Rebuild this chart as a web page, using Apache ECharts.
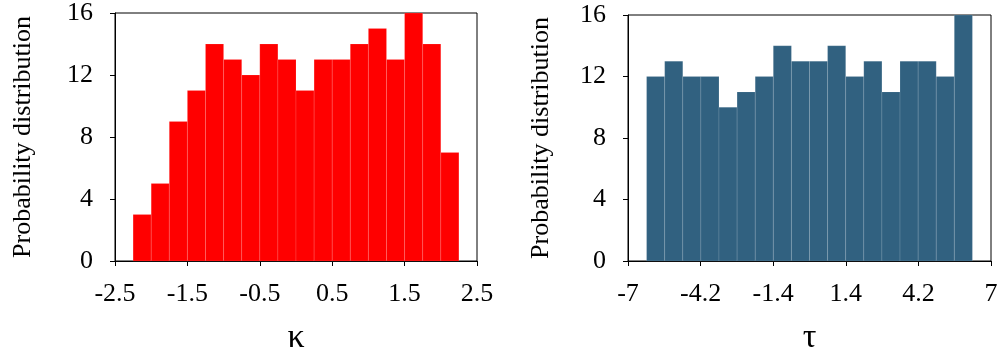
<!DOCTYPE html>
<html>
<head>
<meta charset="utf-8">
<script src="https://cdn.jsdelivr.net/npm/echarts@6/dist/echarts.min.js"></script>
<style>
html,body{margin:0;padding:0;background:#fff;}
#c{width:1001px;height:360px;}
</style>
</head>
<body>
<div id="c"></div>
<script>
// ---- data ----
const kappaBinEdges = [-2.25,-2.0,-1.75,-1.5,-1.25,-1.0,-0.75,-0.5,-0.25,0,0.25,0.5,0.75,1.0,1.25,1.5,1.75,2.0,2.25];
const kappaCounts   = [3,5,9,11,14,13,12,14,13,11,13,13,14,15,13,16,14,7];
const tauBinEdges   = [-6.283,-5.585,-4.887,-4.189,-3.491,-2.793,-2.094,-1.396,-0.698,0,0.698,1.396,2.094,2.793,3.491,4.189,4.887,5.585,6.283];
const tauCounts     = [12,13,12,12,10,11,12,14,13,13,14,12,13,11,13,13,12,16];
const kappaTicks = {min:-2.5, max:2.5, interval:1};
const tauTicks   = {min:-7, max:7, interval:2.8};
const yTicks     = {min:0, max:16, interval:4};
const yName = 'Probability distribution';
const xNames = ['κ','τ'];

const FONT = "'Liberation Serif','Times New Roman',serif";
const colors = ['#ff0000','#316180'];

function binsData(edges, counts){
  return counts.map((c,i)=>[edges[i], edges[i+1], c]);
}
function fmt(v){ return String(+(+v).toFixed(1)); }

function renderHist(color){
  return function(params, api){
    const x0 = api.value(0), x1 = api.value(1), y = api.value(2);
    const p0 = api.coord([x0, y]);
    const p1 = api.coord([x1, 0]);
    return {
      type:'rect',
      shape:{x:p0[0], y:p0[1], width:p1[0]-p0[0], height:p1[1]-p0[1]},
      style:{fill:color, stroke:'rgba(255,255,255,0.2)', lineWidth:0.6}
    };
  };
}

function xAxis(idx, t, name){
  return {
    type:'value', gridIndex:idx, min:t.min, max:t.max, interval:t.interval,
    name:name, nameLocation:'middle', nameGap:60,
    nameTextStyle:{fontFamily:FONT, fontSize:34, color:'#000'},
    axisLine:{show:true, onZero:false, lineStyle:{color:'#000', width:1}},
    axisTick:{show:true, inside:false, length:5, lineStyle:{color:'#000'}},
    axisLabel:{fontFamily:FONT, fontSize:26, color:'#000', margin:20, formatter:fmt, showMinLabel:true, showMaxLabel:true},
    splitLine:{show:false}
  };
}
function yAxis(idx, gap){
  return {
    type:'value', gridIndex:idx, min:yTicks.min, max:yTicks.max, interval:yTicks.interval,
    name:yName, nameLocation:'middle', nameGap:gap,
    nameTextStyle:{fontFamily:FONT, fontSize:26, color:'#000'},
    axisLine:{show:true, onZero:false, lineStyle:{color:'#000', width:1}},
    axisTick:{show:true, inside:false, length:5, lineStyle:{color:'#000'}},
    axisLabel:{fontFamily:FONT, fontSize:26, color:'#000', margin:22},
    splitLine:{show:false}
  };
}

const chart = echarts.init(document.getElementById('c'), null, {renderer:'canvas'});
chart.setOption({
  backgroundColor:'#fff',
  animation:false,
  grid:[
    {left:115, top:13, width:362, height:249, show:true, borderColor:'#000', borderWidth:1, containLabel:false},
    {left:628, top:15, width:363, height:248, show:true, borderColor:'#000', borderWidth:1, containLabel:false}
  ],
  xAxis:[xAxis(0, kappaTicks, xNames[0]), xAxis(1, tauTicks, xNames[1])],
  yAxis:[yAxis(0, 79), yAxis(1, 74)],
  series:[
    {type:'custom', xAxisIndex:0, yAxisIndex:0, renderItem:renderHist(colors[0]),
     encode:{x:[0,1], y:2}, data:binsData(kappaBinEdges, kappaCounts)},
    {type:'custom', xAxisIndex:1, yAxisIndex:1, renderItem:renderHist(colors[1]),
     encode:{x:[0,1], y:2}, data:binsData(tauBinEdges, tauCounts)}
  ]
});
</script>
</body>
</html>
